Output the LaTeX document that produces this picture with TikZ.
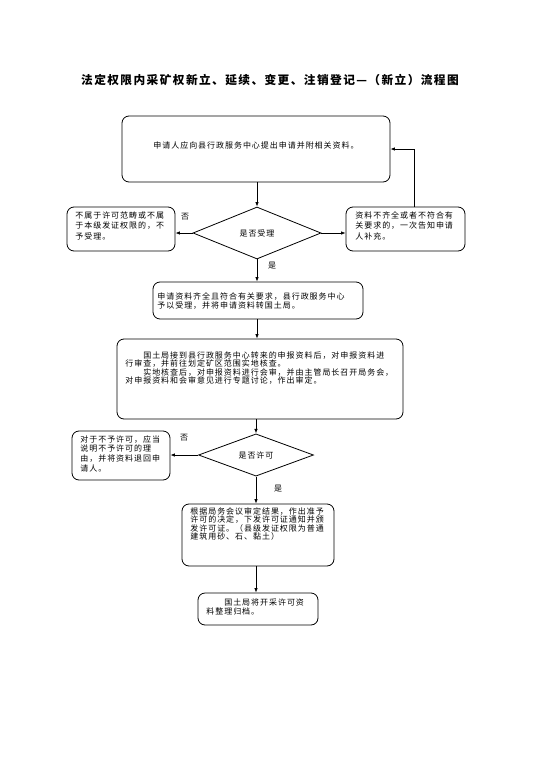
\documentclass[tikz,border=0pt]{standalone}
\usepackage{fontspec}
\newfontfamily\cjk[LetterSpace=12]{Noto Sans CJK SC}
\usetikzlibrary{shapes.geometric,arrows.meta}

\begin{document}
\begin{tikzpicture}[x=1pt, y=-1pt, line width=0.8pt,
  box/.style={draw, rounded corners=7pt, inner sep=0pt},
  judge/.style={draw, diamond, inner sep=0pt, font=\cjk\fontsize{8}{8}\selectfont},
  txt/.style={font=\cjk\fontsize{8}{#1}\selectfont, align=left, inner sep=0pt, anchor=north west},
  note/.style={font=\cjk\fontsize{8}{8}\selectfont, inner sep=0pt},
  flow/.style={-{Latex[length=4.5pt,width=3.5pt]}}]
  \useasboundingbox (0,0) rectangle (542,768);

  % title
  \node[font=\cjk\bfseries\fontsize{11.7}{12}\selectfont] (title) at (270,80) {法定权限内采矿权新立、延续、变更、注销登记—（新立）流程图};

  % boxes
  \node[box, minimum width=268pt, minimum height=66pt] (apply) at (256,149) {};
  \node[note] (applyt) at (256,145) {申请人应向县行政服务中心提出申请并附相关资料。};

  \node[judge, minimum width=128pt, minimum height=52pt] (accept) at (257,233) {是否受理};

  \node[box, minimum width=108pt, minimum height=44pt] (reject) at (121,229) {};
  \node[txt=10.5pt] (rejectt) at (75,211) {不属于许可范畴或不属\\于本级发证权限的，不\\予受理。};

  \node[box, minimum width=119pt, minimum height=44pt] (supply) at (405.5,229) {};
  \node[txt=10.5pt] (supplyt) at (355,211) {资料不齐全或者不符合有\\关要求的，一次告知申请\\人补充。};

  \node[box, minimum width=210pt, minimum height=37pt] (pass) at (258,300.5) {};
  \node[txt=9pt] (passt) at (157,292) {申请资料齐全且符合有关要求，县行政服务中心\\予以受理，并将申请资料转国土局。};

  \node[box, minimum width=286pt, minimum height=80pt] (review) at (260,379) {};
  \node[txt=8.6pt] (reviewt) at (125,351) {　　国土局接到县行政服务中心转来的申报资料后，对申报资料进\\行审查，并前往划定矿区范围实地核查。\\　　实地核查后，对申报资料进行会审，并由主管局长召开局务会，\\对申报资料和会审意见进行专题讨论，作出审定。};

  \node[judge, minimum width=115pt, minimum height=41pt] (permit) at (256,455) {是否许可};

  \node[box, minimum width=98pt, minimum height=49pt] (deny) at (121,455.5) {};
  \node[txt=9.8pt] (denyt) at (80,435) {对于不予许可，应当\\说明不予许可的理\\由，并将资料退回申\\请人。};

  \node[box, minimum width=152pt, minimum height=62pt] (issue) at (258,535) {};
  \node[txt=8.6pt] (issuet) at (190,507) {根据局务会议审定结果，作出准予\\许可的决定，下发许可证通知并颁\\发许可证。（县级发证权限为普通\\建筑用砂、石、黏土）};

  \node[box, minimum width=120pt, minimum height=32pt] (archive) at (258,609) {};
  \node[txt=9pt] (archivet) at (206,598) {　　国土局将开采许可资\\料整理归档。};

  % branch labels
  \node[note] (no1) at (185,217) {否};
  \node[note] (yes1) at (272,266) {是};
  \node[note] (no2) at (184,438) {否};
  \node[note] (yes2) at (278,489) {是};

  % connectors
  \draw[flow] (apply.south -| accept) -- (accept.north);
  \draw[flow] (accept.west) -- (accept.west -| reject.east);
  \draw[flow] (accept.east) -- (accept.east -| supply.west);
  \draw[flow] ([xshift=9pt]supply.north) |- (apply.east);
  \draw[flow] (accept.south) -- (accept.south |- pass.north);
  \draw[flow] (pass.south -| accept) -- (accept |- review.north);
  \draw[flow] (review.south -| permit) -- (permit.north);
  \draw[flow] (permit.west) -- (permit.west -| deny.east);
  \draw[flow] (permit.south) -- (permit.south |- issue.north);
  \draw[flow] (issue.south -| permit) -- (permit |- archive.north);
\end{tikzpicture}
\end{document}
